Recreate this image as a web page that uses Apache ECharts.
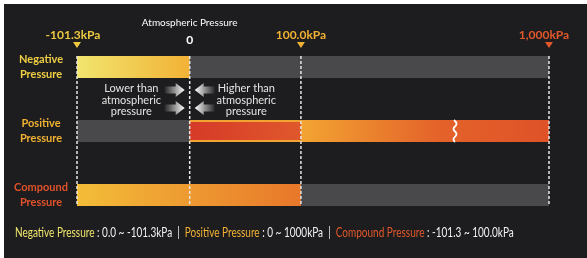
<!DOCTYPE html>
<html>
<head>
<meta charset="utf-8">
<script src="https://cdn.jsdelivr.net/npm/echarts@6/dist/echarts.min.js"></script>
<style>
  html, body { margin: 0; padding: 0; background: #fff; }
  #main { position: absolute; left: 4px; top: 4px; width: 583px; height: 254px; }
</style>
</head>
<body>
<div id="main"></div>
<script>
  // rows, top to bottom
  var rowNames = ['Negative\nPressure', 'Positive\nPressure', 'Compound\nPressure']
  // scale ends (kPa)
  var scaleMin = -101.3
  var scaleMax = 1000
  // reference marks above the bars
  var markValues = [-101.3, 0, 100, 1000]
  var markLabels = ['-101.3kPa', '0', '100.0kPa', '1,000kPa']
  // pressure ranges (kPa)
  var negativeRange = [-101.3, 0]
  var positiveRange = [0, 1000]
  var positiveSplit = 100
  var compoundRange = [-101.3, 100]
  // part of the scale that is cut out (wavy mark)
  var breakRange = [237, 917]

  var barH = 22
  var markColors = ['#eec940', '#ffffff', '#f1b133', '#e2582a']
  var rowColors = ['#f0cf45', '#f1b133', '#e0522a']

  var myChart = echarts.init(document.getElementById('main'))

  // one gradient bar from a range
  function rangeBar(name, range, row, stops, z, inset) {
    return {
      type: 'custom',
      name: name,
      z: z,
      encode: { x: [0, 1], y: 2 },
      data: [[range[0], range[1], row]],
      renderItem: function (params, api) {
        var p0 = api.coord([api.value(0), api.value(2)])
        var p1 = api.coord([api.value(1), api.value(2)])
        var h = barH - (inset || 0) * 2
        return {
          type: 'rect',
          shape: { x: p0[0], y: p0[1] - h / 2, width: p1[0] - p0[0], height: h },
          style: { fill: new echarts.graphic.LinearGradient(0, 0, 1, 0, stops) }
        }
      }
    }
  }

  var tracks = {
    type: 'custom',
    name: 'track',
    z: 1,
    encode: { x: [0, 1], y: 2 },
    data: rowNames.map(function (n, i) { return [scaleMin, scaleMax, i] }),
    renderItem: function (params, api) {
      var p0 = api.coord([api.value(0), api.value(2)])
      var p1 = api.coord([api.value(1), api.value(2)])
      return {
        type: 'rect',
        shape: { x: p0[0], y: p0[1] - barH / 2, width: p1[0] - p0[0], height: barH },
        style: { fill: '#49494b' }
      }
    }
  }

  // dashed guide lines
  var guides = {
    type: 'custom',
    name: 'guides',
    z: 5,
    encode: { x: 0 },
    data: markValues.map(function (v) { return [v] }),
    renderItem: function (params, api) {
      var v = api.value(0)
      var top = api.coord([v, 0])
      var bot = api.coord([v, rowNames.length - 1])
      return {
        type: 'line',
        shape: { x1: top[0], y1: top[1] - barH / 2, x2: bot[0], y2: bot[1] + barH / 2 },
        style: { stroke: '#e6e6e6', lineWidth: 1.5, lineDash: [3, 2] }
      }
    }
  }

  // triangles + labels on top
  var marks = {
    type: 'custom',
    name: 'marks',
    z: 6,
    encode: { x: 0 },
    data: markValues.map(function (v, i) { return [v, i] }),
    renderItem: function (params, api) {
      var i = api.value(1)
      var p = api.coord([api.value(0), 0])
      var x = p[0]
      var top = p[1] - barH / 2
      var children = []
      if (markLabels[i] === '0') {
        children.push({
          type: 'text',
          style: { text: 'Atmospheric Pressure', x: x, y: top - 33, align: 'center', verticalAlign: 'middle',
            fill: '#ffffff', font: '10px Lato' }
        })
        children.push({
          type: 'text',
          style: { text: markLabels[i], x: x, y: top - 16, align: 'center', verticalAlign: 'middle',
            fill: '#ffffff', font: 'bold 12px Lato' }
        })
      } else {
        var shift = i === 0 ? -4 : (i === markValues.length - 1 ? -5 : 0)
        children.push({
          type: 'polygon',
          shape: { points: [[x - 4, top - 14], [x + 4, top - 14], [x, top - 8]] },
          style: { fill: markColors[i] }
        })
        children.push({
          type: 'text',
          style: { text: markLabels[i], x: x + shift, y: top - 21, align: 'center', verticalAlign: 'middle',
            fill: markColors[i], font: 'bold 12px Lato' }
        })
      }
      return { type: 'group', children: children }
    }
  }

  // wavy cut on the positive bar
  var cut = {
    type: 'custom',
    name: 'cut',
    z: 6,
    encode: { x: [0, 1], y: 2 },
    data: [[breakRange[0], breakRange[1], 1]],
    renderItem: function (params, api) {
      var a = api.coord([api.value(0), api.value(2)])
      var b = api.coord([api.value(1), api.value(2)])
      var x = (a[0] + b[0]) / 2
      var t = a[1] - barH / 2
      return {
        type: 'polyline',
        shape: { points: [[x - 1, t], [x + 1.5, t + 4], [x - 1.5, t + 9], [x + 1.5, t + 14], [x - 1.5, t + 19], [x, t + barH]], smooth: 0.5 },
        style: { stroke: '#ffffff', lineWidth: 1.8, fill: null }
      }
    }
  }

  function arrow(tipX, y, dir) {
    var d = dir
    var pts = [
      [tipX, y],
      [tipX - d * 9, y - 7],
      [tipX - d * 9, y - 3.5],
      [tipX - d * 20, y - 3.5],
      [tipX - d * 20, y + 3.5],
      [tipX - d * 9, y + 3.5],
      [tipX - d * 9, y + 7]
    ]
    var grad = d > 0
      ? new echarts.graphic.LinearGradient(0, 0, 1, 0, [{ offset: 0, color: 'rgba(255,255,255,0.05)' }, { offset: 1, color: '#ffffff' }])
      : new echarts.graphic.LinearGradient(0, 0, 1, 0, [{ offset: 0, color: '#ffffff' }, { offset: 1, color: 'rgba(255,255,255,0.05)' }])
    return { type: 'polygon', shape: { points: pts }, style: { fill: grad } }
  }

  // notes between first and second row
  var notes = {
    type: 'custom',
    name: 'notes',
    z: 6,
    encode: { x: [0, 1, 2] },
    data: [[negativeRange[0], negativeRange[1], positiveSplit]],
    renderItem: function (params, api) {
      var l = api.coord([api.value(0), 0])
      var m = api.coord([api.value(1), 0])
      var r = api.coord([api.value(2), 0])
      var y = (l[1] + api.coord([api.value(0), 1])[1]) / 2
      var txt = { align: 'center', verticalAlign: 'middle', fill: '#e4e4e4', font: '11px Lato', lineHeight: 11.5 }
      return {
        type: 'group',
        children: [
          { type: 'text', style: Object.assign({ text: 'Lower than\natmospheric\npressure', x: (l[0] + m[0]) / 2 - 2, y: y + 1 }, txt) },
          { type: 'text', style: Object.assign({ text: 'Higher than\natmospheric\npressure', x: (m[0] + r[0]) / 2 + 1, y: y + 1 }, txt) },
          arrow(m[0] - 5, y - 9, 1),
          arrow(m[0] - 5, y + 9, 1),
          arrow(m[0] + 5, y - 9, -1),
          arrow(m[0] + 5, y + 9, -1)
        ]
      }
    }
  }

  myChart.setOption({
    backgroundColor: '#1d1d1f',
    animation: false,
    grid: { left: 73, right: 38, top: 31, height: 192 },
    xAxis: {
      type: 'value',
      min: scaleMin,
      max: scaleMax,
      breaks: [{ start: breakRange[0], end: breakRange[1], gap: 3 }],
      breakArea: { show: false },
      axisLine: { show: false },
      axisTick: { show: false },
      axisLabel: { show: false },
      splitLine: { show: false }
    },
    yAxis: {
      type: 'category',
      inverse: true,
      data: rowNames,
      axisLine: { show: false },
      axisTick: { show: false },
      splitLine: { show: false },
      axisLabel: {
        align: 'center',
        margin: 36,
        formatter: function (value, idx) {
          return value.split('\n').map(function (s) { return '{r' + idx + '|' + s + '}' }).join('\n')
        },
        rich: {
          r0: { color: rowColors[0], fontFamily: 'Lato', fontWeight: 'bold', fontSize: 11, lineHeight: 15 },
          r1: { color: rowColors[1], fontFamily: 'Lato', fontWeight: 'bold', fontSize: 11, lineHeight: 15 },
          r2: { color: rowColors[2], fontFamily: 'Lato', fontWeight: 'bold', fontSize: 11, lineHeight: 15 }
        }
      }
    },
    graphic: [{
      type: 'text',
      left: 11,
      top: 222,
      scaleX: 0.8,
      style: {
        text: '{n|Negative Pressure}{w| : 0.0 ~ -101.3kPa  |  }{p|Positive Pressure}{w| : 0 ~ 1000kPa  |  }{c|Compound Pressure}{w| : -101.3 ~ 100.0kPa}',
        rich: {
          n: { fill: '#efe46c', font: '12.5px Lato' },
          p: { fill: '#f1b133', font: '12.5px Lato' },
          c: { fill: '#e2582a', font: '12.5px Lato' },
          w: { fill: '#f2f2f2', font: '12.5px Lato' }
        }
      }
    }],
    series: [
      tracks,
      rangeBar('negative', negativeRange, 0, [{ offset: 0, color: '#f1e56e' }, { offset: 1, color: '#f2b236' }], 2),
      rangeBar('positive', [positiveRange[0], positiveSplit], 1, [{ offset: 0, color: '#f2a433' }, { offset: 1, color: '#f2a433' }], 2),
      rangeBar('positive-inner', [positiveRange[0], positiveSplit], 1, [{ offset: 0, color: '#d63a28' }, { offset: 1, color: '#e0582c' }], 3, 2),
      rangeBar('positive-high', [positiveSplit, positiveRange[1]], 1, [{ offset: 0, color: '#f2a432' }, { offset: 0.55, color: '#e4632a' }, { offset: 1, color: '#df5228' }], 2),
      rangeBar('compound', compoundRange, 2, [{ offset: 0, color: '#f3bd38' }, { offset: 1, color: '#e8772a' }], 2),
      guides,
      marks,
      cut,
      notes
    ]
  })
</script>
</body>
</html>
